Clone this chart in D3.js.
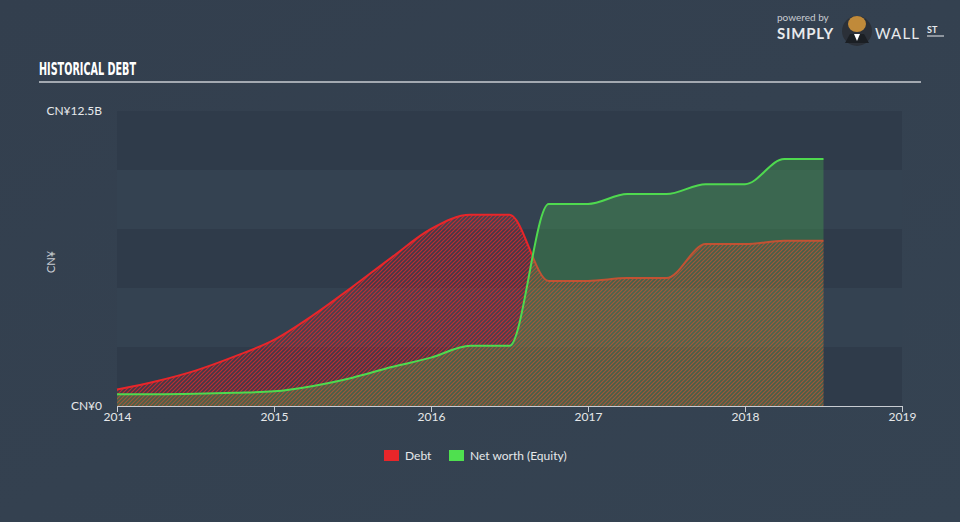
<!DOCTYPE html>
<html><head><meta charset="utf-8">
<script src="https://cdn.jsdelivr.net/npm/d3@7/dist/d3.min.js"></script>
<style>
html,body{margin:0;padding:0;background:#344150;}
svg{display:block;}
</style></head><body>
<svg id="c" width="960" height="522"></svg>
<script>
const periods = [2014.0,2014.25,2014.5,2014.75,2015.0,2015.25,2015.5,2015.75,2016.0,2016.25,2016.5,2016.75,2017.0,2017.25,2017.5,2017.75,2018.0,2018.25,2018.5];
const debt =   [0.7,1.05,1.5,2.1,2.8,3.85,5.05,6.3,7.5,8.1,8.1,5.3,5.3,5.42,5.42,6.86,6.86,7.0,7.0];
const equity = [0.5,0.5,0.52,0.56,0.62,0.85,1.2,1.65,2.05,2.55,2.55,8.56,8.56,8.98,8.98,9.4,9.4,10.47,10.47];
const xTicks = [2014,2015,2016,2017,2018,2019];
const yTickLabels = ["CN¥0","CN¥12.5B"];
const yTickValues = [0,12.5];
const legendLabels = ["Debt","Net worth (Equity)"];

(function(){
const svg = d3.select("#c");
const W=960,H=522;
const pL=117,pR=902,pT=111,pB=406;
const x = d3.scaleLinear().domain([2014,2019]).range([pL,pR]);
const y = d3.scaleLinear().domain([0,12.5]).range([pB,pT]);

const defs = svg.append("defs");
const bg = defs.append("linearGradient").attr("id","bg").attr("x1",0).attr("y1",0).attr("x2",1).attr("y2",1);
bg.append("stop").attr("offset","0%").attr("stop-color","#333f4e");
bg.append("stop").attr("offset","100%").attr("stop-color","#354352");
svg.append("rect").attr("width",W).attr("height",H).attr("fill","url(#bg)");

const pat = defs.append("pattern").attr("id","hatch").attr("patternUnits","userSpaceOnUse").attr("width",4).attr("height",4);
pat.append("path").attr("d","M-1,1 l2,-2 M0,4 l4,-4 M3,5 l2,-2").attr("stroke","#e8262a").attr("stroke-width",1.1).attr("opacity",0.75);

const bandVals = d3.range(0,12.5,2.5);
svg.append("g").selectAll("rect").data(bandVals).join("rect")
  .attr("x",pL).attr("width",pR-pL)
  .attr("y",d=>y(d+2.5)).attr("height",d=>y(d)-y(d+2.5))
  .attr("fill",(d,i)=> i%2===0 ? "#2f3b4a" : "#344251");

svg.append("text").attr("x",39).attr("y",75).text("HISTORICAL DEBT")
  .attr("font-family","'Liberation Sans Narrow','DejaVu Sans Condensed',sans-serif")
  .attr("font-weight","bold").attr("font-size",17).attr("fill","#ffffff")
  .attr("textLength",97).attr("lengthAdjust","spacingAndGlyphs");
svg.append("line").attr("x1",39).attr("x2",921).attr("y1",82).attr("y2",82)
  .attr("stroke","#a3a9b1").attr("stroke-width",2);

const lg = svg.append("g");
lg.append("text").attr("x",777).attr("y",21).text("powered by").attr("font-family","Lato, sans-serif").attr("font-size",10).attr("fill","#c8ccd2");
lg.append("text").attr("x",777).attr("y",39).text("SIMPLY").attr("font-family","Lato, sans-serif").attr("font-weight","bold").attr("font-size",15).attr("fill","#e8eaec").attr("letter-spacing",0.8);
lg.append("circle").attr("cx",857).attr("cy",31).attr("r",15).attr("fill","#2b3038");
lg.append("ellipse").attr("cx",857).attr("cy",24).attr("rx",9).attr("ry",8).attr("fill","#c08a3a");
lg.append("path").attr("d","M845,43 L850,34 L864,34 L869,43 Z").attr("fill","#1b1f24");
lg.append("path").attr("d","M854,34 L857,41 L860,34 Z").attr("fill","#ffffff");
lg.append("text").attr("x",875).attr("y",39).text("WALL").attr("font-family","Lato, sans-serif").attr("font-size",15).attr("fill","#e8eaec").attr("letter-spacing",1.2);
lg.append("text").attr("x",927).attr("y",33).text("ST").attr("font-family","Lato, sans-serif").attr("font-weight","bold").attr("font-size",9).attr("fill","#e8eaec");
lg.append("line").attr("x1",927).attr("x2",944).attr("y1",36).attr("y2",36).attr("stroke","#e8eaec").attr("stroke-width",1);

const pts = periods.map((p,i)=>({p,d:debt[i],e:equity[i]}));
const curve = d3.curveMonotoneX;
const debtArea = d3.area().x(d=>x(d.p)).y0(y(0)).y1(d=>y(d.d)).curve(curve);
const debtLine = d3.line().x(d=>x(d.p)).y(d=>y(d.d)).curve(curve);
const eqArea = d3.area().x(d=>x(d.p)).y0(y(0)).y1(d=>y(d.e)).curve(curve);
const eqLine = d3.line().x(d=>x(d.p)).y(d=>y(d.e)).curve(curve);

svg.append("path").datum(pts).attr("d",debtArea).attr("fill","#e8262a").attr("opacity",0.12);
svg.append("path").datum(pts).attr("d",debtArea).attr("fill","url(#hatch)");
svg.append("path").datum(pts).attr("d",debtLine).attr("fill","none").attr("stroke","#e8262a").attr("stroke-width",2);
svg.append("path").datum(pts).attr("d",eqArea).attr("fill","#4fd94f").attr("opacity",0.25);
svg.append("path").datum(pts).attr("d",eqLine).attr("fill","none").attr("stroke","#4fd94f").attr("stroke-width",2);

const xa = svg.append("g").attr("transform",`translate(0,${pB})`)
  .call(d3.axisBottom(x).tickValues(xTicks).tickFormat(d3.format("d")).tickSize(6).tickSizeOuter(0));
xa.select(".domain").attr("stroke","#c8ccd2");
xa.selectAll(".tick line").attr("stroke","#c8ccd2");
xa.selectAll("text").attr("fill","#e6e8ea").attr("font-family","Lato, sans-serif").attr("font-size",12).attr("dy","0.5em");

svg.append("g").selectAll("text").data(yTickValues).join("text")
  .attr("x",102).attr("y",d=>y(d)).attr("dy","0.3em").attr("text-anchor","end")
  .text((d,i)=>yTickLabels[i]).attr("fill","#e6e8ea").attr("font-family","Lato, sans-serif").attr("font-size",12);
svg.append("text").attr("transform","translate(55,262) rotate(-90)").attr("text-anchor","middle")
  .text("CN¥").attr("fill","#c8ccd2").attr("font-family","Lato, sans-serif").attr("font-size",11);

const colors = ["#e8262a","#4fe04f"];
const legX = [384,449];
const lgd = svg.append("g").selectAll("g").data(legendLabels).join("g")
  .attr("transform",(d,i)=>`translate(${legX[i]},450)`);
lgd.append("rect").attr("width",15).attr("height",11).attr("fill",(d,i)=>colors[i]);
lgd.append("text").attr("x",21).attr("y",10).text(d=>d).attr("fill","#e6e8ea").attr("font-family","Lato, sans-serif").attr("font-size",12);
})();
</script>
</body></html>
